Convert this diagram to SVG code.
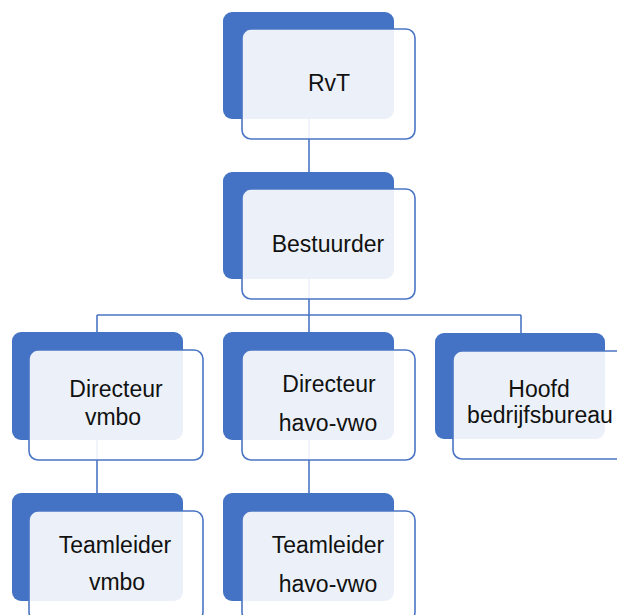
<svg xmlns="http://www.w3.org/2000/svg" width="617" height="615" viewBox="0 0 617 615">
<style>
.back{fill:#4472C4;}
.front{fill:#ffffff;fill-opacity:0.9;stroke:#4A75C4;stroke-width:1.6;}
.conn{fill:none;stroke:#4A75C4;stroke-width:1.6;}
.lbl{font-family:"Liberation Sans",Arial,sans-serif;font-size:23px;fill:#111;text-anchor:middle;}
</style>
<rect width="617" height="615" fill="#ffffff"/>
<g id="connectors">
<path class="conn" d="M309,119 V332"/>
<path class="conn" d="M97,315 H521"/>
<path class="conn" d="M97,315 V332"/>
<path class="conn" d="M521,315 V333"/>
<path class="conn" d="M97,440 V493"/>
<path class="conn" d="M309,440 V493"/>
</g>
<g id="rvt">
<rect class="back" x="223" y="12" width="171" height="107" rx="9"/>
<rect class="front" x="242" y="29" width="173" height="110" rx="9"/>
<text class="lbl" x="329" y="91">RvT</text>
</g>
<g id="bestuurder">
<rect class="back" x="223" y="172" width="171" height="107" rx="9"/>
<rect class="front" x="242" y="189" width="173" height="110" rx="9"/>
<text class="lbl" x="328" y="252">Bestuurder</text>
</g>
<g id="directeur-vmbo">
<rect class="back" x="12" y="332" width="171" height="108" rx="9"/>
<rect class="front" x="29" y="350" width="174" height="110" rx="9"/>
<text class="lbl" x="116" y="397">Directeur</text>
<text class="lbl" x="113" y="425">vmbo</text>
</g>
<g id="directeur-havo-vwo">
<rect class="back" x="223" y="332" width="171" height="108" rx="9"/>
<rect class="front" x="242" y="350" width="173" height="110" rx="9"/>
<text class="lbl" x="329" y="392">Directeur</text>
<text class="lbl" x="328" y="431">havo-vwo</text>
</g>
<g id="hoofd-bedrijfsbureau">
<rect class="back" x="435" y="333" width="170" height="106" rx="9"/>
<rect class="front" x="453" y="351" width="173" height="108" rx="9"/>
<text class="lbl" x="539" y="397">Hoofd</text>
<text class="lbl" x="540" y="423">bedrijfsbureau</text>
</g>
<g id="teamleider-vmbo">
<rect class="back" x="12" y="493" width="171" height="108" rx="9"/>
<rect class="front" x="29" y="511" width="174" height="110" rx="9"/>
<text class="lbl" x="115" y="553">Teamleider</text>
<text class="lbl" x="117" y="590">vmbo</text>
</g>
<g id="teamleider-havo-vwo">
<rect class="back" x="223" y="493" width="171" height="108" rx="9"/>
<rect class="front" x="242" y="511" width="173" height="110" rx="9"/>
<text class="lbl" x="328" y="553">Teamleider</text>
<text class="lbl" x="328" y="592">havo-vwo</text>
</g>
</svg>
